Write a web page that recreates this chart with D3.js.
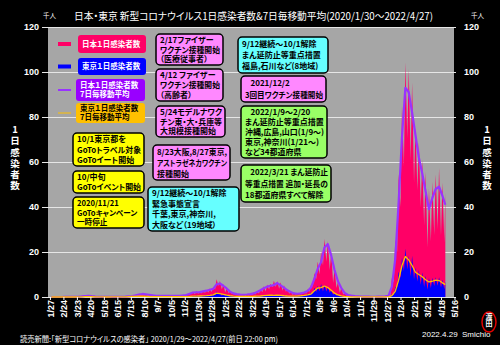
<!DOCTYPE html>
<html><head><meta charset="utf-8">
<script src="https://cdn.jsdelivr.net/npm/d3@7"></script>
<style>
html,body{margin:0;padding:0;background:#000;}
svg{display:block;}
text{font-feature-settings:"palt" 1;}
</style></head><body>
<svg id="c" width="500" height="345"></svg>
<script>
// ---------------- DATA (thousands of people) ----------------
// weekly rows, week i starts on Monday weekStart + 7*i days
const weekStart = "2020-01-27";
const lastDay = "2022-04-27";
// Japan 7-day moving average (purple line)
const jpAvg = [
0.002,0.003,0.005,0.01,0.02,0.03,0.04,0.04,0.1,0.25,
0.45,0.55,0.35,0.2,0.1,0.05,0.03,0.035,0.04,0.04,
0.05,0.1,0.17,0.3,0.45,0.75,1.1,1.35,1.15,0.95,
0.75,0.55,0.55,0.5,0.5,0.5,0.55,0.55,0.55,0.7,
0.9,1.4,2.0,2.1,2.2,2.5,2.8,3.2,3.6,5.6,
6.0,5.0,3.8,2.4,1.6,1.3,1.05,1.0,1.1,1.3,
1.6,2.2,3.0,3.9,4.6,5.0,5.3,6.2,5.2,4.2,
3.0,2.2,1.6,1.45,1.6,2.0,2.7,4.2,8.0,12.5,
15.5,22.0,23.5,18.5,12.0,7.0,4.0,1.8,0.9,0.6,
0.4,0.3,0.2,0.15,0.13,0.1,0.12,0.13,0.15,0.25,
0.5,4.6,16.9,42.0,71.2,93.0,91.0,82.0,72.0,62.0,
55.0,47.0,39.0,44.0,48.0,49.0,45.0,41.0];
// Japan daily cases: Monday (weekly low) and weekly peak day
const jpMon = [
0,0,0.002,0.005,0.01,0.02,0.02,0.02,0.04,0.1,
0.25,0.37,0.22,0.14,0.06,0.02,0.02,0.02,0.03,0.02,
0.04,0.06,0.1,0.2,0.3,0.45,0.6,0.8,0.7,0.6,
0.5,0.3,0.3,0.3,0.3,0.3,0.3,0.3,0.3,0.4,
0.5,0.8,1.2,1.2,1.4,1.6,1.8,2.0,2.2,3.3,
4.9,3.3,2.0,1.8,1.3,1.0,0.8,0.7,0.6,0.7,
0.8,1.1,1.6,2.1,2.5,3.3,4.3,4.5,3.7,2.8,
2.3,1.5,0.9,0.9,1.1,1.3,1.5,2.3,4.7,8.0,
10.0,14.0,15.7,12.0,6.2,4.0,1.9,1.1,0.6,0.4,
0.24,0.15,0.1,0.1,0.08,0.05,0.06,0.08,0.1,0.15,
0.25,0.8,6.4,20.0,40.0,58.0,70.5,60.4,50.8,47.5,
39.8,31.8,22.0,24.8,27.6,30.1,27.3,24.2];
const jpPeak = [
0.003,0.01,0.01,0.02,0.03,0.04,0.06,0.06,0.2,0.4,
0.7,0.62,0.44,0.3,0.12,0.1,0.05,0.06,0.05,0.07,
0.08,0.14,0.27,0.4,0.6,1.0,1.5,1.6,1.3,1.2,
0.9,0.7,0.65,0.6,0.65,0.65,0.65,0.7,0.7,0.9,
1.3,1.8,2.4,2.6,2.5,3.0,3.2,3.8,4.5,7.9,
7.1,5.7,4.0,2.6,2.0,1.5,1.2,1.2,1.35,1.6,
2.1,2.8,3.7,4.8,5.6,5.9,7.2,7.1,6.6,5.2,
3.5,2.7,1.9,1.8,2.0,2.4,3.4,5.4,10.7,15.8,
20.3,25.9,24.9,20.0,12.4,6.7,4.2,2.1,1.1,0.8,
0.55,0.4,0.26,0.22,0.2,0.15,0.16,0.18,0.2,0.3,
0.55,8.5,25.7,54.6,84.9,104.3,101.3,95.3,75.0,68.8,
61.0,55.7,48.2,51.2,54.6,57.3,50.9,46.6];
// Tokyo 7-day moving average (orange line)
const tkAvg = [
0,0,0,0.001,0.002,0.003,0.005,0.01,0.04,0.1,
0.15,0.15,0.12,0.08,0.03,0.015,0.01,0.01,0.015,0.02,
0.03,0.05,0.1,0.2,0.25,0.25,0.33,0.35,0.28,0.22,
0.2,0.15,0.17,0.17,0.16,0.17,0.18,0.17,0.17,0.16,
0.2,0.28,0.4,0.43,0.45,0.5,0.6,0.75,0.95,1.7,
1.5,1.2,0.8,0.55,0.4,0.3,0.27,0.27,0.28,0.3,
0.33,0.4,0.45,0.6,0.7,0.8,0.75,0.8,0.7,0.55,
0.45,0.4,0.4,0.45,0.55,0.7,0.9,1.3,2.8,4.0,
4.2,4.9,4.2,3.0,1.7,0.9,0.5,0.25,0.15,0.07,
0.04,0.03,0.02,0.02,0.02,0.02,0.02,0.02,0.02,0.03,
0.06,0.6,2.5,7.5,14.0,18.0,16.5,14.0,11.0,10.0,
9.0,7.7,6.7,7.0,7.5,7.3,6.3,5.5];
// Tokyo daily cases: Monday and weekly peak day
const tkMon = [
0,0,0,0,0,0,0,0.005,0.02,0.08,
0.08,0.09,0.1,0.04,0.02,0.01,0.005,0.01,0.01,0.01,
0.02,0.03,0.06,0.1,0.12,0.17,0.13,0.3,0.2,0.16,
0.1,0.1,0.08,0.1,0.07,0.08,0.08,0.08,0.1,0.1,
0.09,0.15,0.18,0.3,0.3,0.3,0.3,0.39,0.48,0.88,
1.2,0.6,0.6,0.39,0.28,0.18,0.18,0.12,0.17,0.18,
0.19,0.23,0.25,0.3,0.4,0.42,0.42,0.57,0.42,0.34,
0.27,0.21,0.21,0.24,0.32,0.34,0.5,0.73,1.43,2.2,
2.6,2.5,2.45,1.9,0.97,0.6,0.25,0.15,0.08,0.05,
0.03,0.02,0.01,0.01,0.01,0.01,0.01,0.01,0.01,0.02,
0.03,0.1,0.87,4.2,8.5,11.4,12.2,9.1,7.9,6.9,
5.4,4.5,3.2,4.0,4.9,5.0,4.2,3.5];
const tkPeak = [
0,0.001,0.002,0.005,0.005,0.008,0.01,0.015,0.07,0.14,
0.2,0.2,0.16,0.15,0.06,0.03,0.02,0.02,0.03,0.05,
0.05,0.06,0.13,0.24,0.29,0.37,0.47,0.46,0.39,0.34,
0.25,0.2,0.23,0.22,0.23,0.23,0.25,0.28,0.2,0.22,
0.29,0.39,0.53,0.57,0.6,0.6,0.82,0.95,1.34,2.45,
1.8,1.5,1.07,0.73,0.47,0.45,0.34,0.34,0.34,0.41,
0.43,0.48,0.59,0.73,0.86,1.03,1.12,1.01,0.84,0.68,
0.51,0.44,0.5,0.57,0.71,0.92,1.31,1.98,4.06,5.04,
5.77,5.41,4.7,3.17,1.83,1.05,0.54,0.27,0.17,0.08,
0.05,0.04,0.03,0.03,0.03,0.03,0.03,0.03,0.04,0.04,
0.08,1.22,4.56,11.2,17.6,21.6,18.3,18.3,13.0,12.0,
10.9,9.4,8.4,8.6,8.8,8.8,7.7,6.9];
// axis ticks
const tickDates = ["2020-01-27","2020-02-24","2020-03-23","2020-04-20","2020-05-18","2020-06-15","2020-07-13","2020-08-10","2020-09-07","2020-10-05","2020-11-02","2020-11-30","2020-12-28","2021-01-25","2021-02-22","2021-03-22","2021-04-19","2021-05-17","2021-06-14","2021-07-12","2021-08-09","2021-09-06","2021-10-04","2021-11-01","2021-11-29","2021-12-27","2022-01-24","2022-02-21","2022-03-21","2022-04-18","2022-05-16"];
const yTicks = [0,20,40,60,80,100,120];
const legendLabels = [["日本１日感染者数"],["東京１日感染者数"],["日本１日感染者数","7日毎移動平均"],["東京１日感染者数","7日毎移動平均"]];
const titleText = "日本・東京 新型コロナウイルス1日感染者数&7日毎移動平均(2020/1/30～2022/4/27)";
const sideLabel = "1日感染者数";
const unitLabel = "千人";
const sourceText = "読売新聞:「新型コロナウイルスの感染者」 2020/1/29～2022/4/27(前日 22:00 pm)";
const creditText = "2022.4.29  Smichio";

// ---------------- LAYOUT ----------------
const W = 500, H = 345;
const P = {l:48, r:454, t:27, b:297};
const C = {jp:"#ff0066", tk:"#0000ff", jpAvg:"#9933ff", tkAvg:"#ffc000", bg:"#a6a6a6"};
const JP = "'Noto Sans CJK JP','Noto Sans',sans-serif";
const AR = "'Liberation Sans',Arial,sans-serif";

const svg = d3.select("#c");
svg.append("rect").attr("width",W).attr("height",H).attr("fill","#000");

const parse = d3.timeParse("%Y-%m-%d");
const x = d3.scaleTime().domain([parse("2020-01-23"), parse("2022-05-15")]).range([P.l, P.r]);
const y = d3.scaleLinear().domain([0,120]).range([P.b, P.t]);

svg.append("rect").attr("x",P.l).attr("y",P.t).attr("width",P.r-P.l).attr("height",P.b-P.t).attr("fill",C.bg);

// gridlines
svg.append("g").selectAll("line").data(yTicks).join("line")
  .attr("x1",P.l-6).attr("x2",P.r+2).attr("y1",d=>y(d)+0.5).attr("y2",d=>y(d)+0.5)
  .attr("stroke","#e6e6e6").attr("stroke-width",1);

// y labels
const yl = d3.axisLeft(y).tickValues(yTicks).tickSize(0).tickPadding(9);
const gyl = svg.append("g").attr("transform",`translate(${P.l},0)`).call(yl);
const yr = d3.axisRight(y).tickValues(yTicks).tickSize(0).tickPadding(10);
const gyr = svg.append("g").attr("transform",`translate(${P.r},0)`).call(yr);
[gyl,gyr].forEach(g=>{
  g.select(".domain").remove();
  g.selectAll("text").attr("fill","#fff").attr("font-size",9).attr("font-weight","bold").attr("font-family",AR);
});

// series points
const start = parse(weekStart), endD = parse(lastDay);
const dayAt = (i,d)=>{ const t = d3.timeDay.offset(start, i*7+d); return t > endD ? endD : t; };
function dailyPts(mon, peak){
  const pts = [];
  mon.forEach((v,i)=>{ pts.push([dayAt(i,0), v]); pts.push([dayAt(i,3), peak[i]]); });
  return pts;
}
const avgPts = arr => arr.map((v,i)=>[dayAt(i,3), v]);
const area = d3.area().x(d=>x(d[0])).y0(y(0)).y1(d=>y(d[1]));
const line = d3.line().x(d=>x(d[0])).y(d=>y(d[1]));

const plotG = svg.append("g");
plotG.append("path").datum(dailyPts(jpMon,jpPeak)).attr("d",area).attr("fill",C.jp);
plotG.append("path").datum(avgPts(jpAvg)).attr("d",line).attr("fill","none").attr("stroke",C.jpAvg).attr("stroke-width",2.2).attr("stroke-linejoin","round");
plotG.append("path").datum(dailyPts(tkMon,tkPeak)).attr("d",area).attr("fill",C.tk);
plotG.append("path").datum(avgPts(tkAvg)).attr("d",line).attr("fill","none").attr("stroke",C.tkAvg).attr("stroke-width",1.3).attr("stroke-linejoin","round");

// x axis
const xa = d3.axisBottom(x).tickValues(tickDates.map(parse)).tickFormat(d3.timeFormat("%-m/%-d")).tickSize(3);
const gx = svg.append("g").attr("transform",`translate(0,${P.b})`).call(xa);
gx.select(".domain").remove();
gx.selectAll("line").attr("stroke","#fff");
gx.selectAll("text").attr("fill","#fff").attr("font-size",9).attr("font-weight","bold").attr("font-family",AR)
  .attr("transform","rotate(-90)").attr("text-anchor","end").attr("x",-3).attr("y",0).attr("dy","0.35em");

// title
svg.append("text").attr("x",74).attr("y",20).attr("fill","#fff").attr("font-size",10.2).attr("font-family",JP)
  .attr("textLength",359).attr("lengthAdjust","spacingAndGlyphs").text(titleText);
// 千人
[[43,17.5],[471,17.5]].forEach(([px,py])=>svg.append("text").attr("x",px).attr("y",py).attr("fill","#fff").attr("font-size",6.5).attr("font-family",JP).text(unitLabel));
// side labels (vertical writing)
[15,487].forEach(cx=>{
  svg.append("text").attr("x",cx).attr("y",125).attr("fill","#fff").attr("font-size",9.5).attr("font-weight","bold")
    .attr("font-family",JP).style("writing-mode","vertical-rl").style("text-orientation","upright")
    .style("letter-spacing","1.6px").text(sideLabel);
});

// legend
const legendLayout = [
  {sw:{c:C.jp,w:4}, box:{x:78,y:35,w:68,h:18,c:C.jp,t:"#fff"}},
  {sw:{c:C.tk,w:4}, box:{x:78,y:58,w:68,h:17,c:C.tk,t:"#fff"}},
  {sw:{c:C.jpAvg,w:2}, box:{x:76,y:79,w:69,h:22,c:"#9900ff",t:"#fff"}},
  {sw:{c:C.tkAvg,w:1}, box:{x:76,y:103,w:69,h:20,c:"#ffc000",t:"#000"}}
];
const lg = svg.append("g");
legendLayout.forEach((L,i)=>{
  const b = L.box, cy = b.y+b.h/2;
  lg.append("line").attr("x1",58).attr("x2",71).attr("y1",cy).attr("y2",cy).attr("stroke",L.sw.c).attr("stroke-width",L.sw.w);
  lg.append("rect").attr("x",b.x).attr("y",b.y).attr("width",b.w).attr("height",b.h).attr("rx",3).attr("fill",b.c);
  const lines = legendLabels[i];
  lines.forEach((s,j)=>{
    lg.append("text").attr("x",b.x+4).attr("y", cy + 2.7 + (j-(lines.length-1)/2)*9.5)
      .attr("fill",b.t).attr("font-size",7.5).attr("font-weight","bold").attr("font-family",JP).text(s);
  });
});

// annotations
const notes = [
 {x:73,y:133,w:71,h:33,c:"#ffff00",lines:["10/1東京都を","GoToトラベル対象","GoToイート開始"]},
 {x:73,y:171,w:71,h:22,c:"#ffff00",lines:["10/中旬","GoToイベント開始"]},
 {x:73,y:197,w:71,h:31,c:"#ffff00",fs:7.6,lines:["2020/11/21","GoToキャンペーン","一時停止"]},
 {x:156,y:34,w:67,h:31,c:"#ff88ff",lines:["2/17ファイザー","ワクチン接種開始","（医療従事者）"]},
 {x:156,y:69,w:67,h:32,c:"#ff88ff",lines:["4/12 ファイザー","ワクチン接種開始","（高齢者）"]},
 {x:156,y:106,w:69,h:31,c:"#ff88ff",lines:["5/24モデルナワク","チン東・大・兵庫等","大規模接種開始"]},
 {x:153,y:145,w:77,h:35,c:"#ff88ff",lines:["8/23大阪,8/27東京,","アストラゼネカワクチン","接種開始"]},
 {x:148,y:187,w:91,h:44,c:"#66ffff",lines:["9/12継続～10/1解除","緊急事態宣言","千葉,東京,神奈川,","大阪など（19地域）"]},
 {x:238,y:37,w:90,h:36,c:"#66ffff",lines:["9/12継続～10/1解除","まん延防止等重点措置","福島,石川など(8地域)"]},
 {x:241,y:76,w:85,h:26,c:"#ff88ff",lines:["   2021/12/2","3回目ワクチン接種開始"]},
 {x:241,y:106,w:86,h:52,c:"#99ff66",lines:["   2022/1/9～2/20","まん延防止等重点措置","沖縄,広島,山口(1/9～)","東京,神奈川(1/21～)","など34都道府県"]},
 {x:241,y:165,w:90,h:37,c:"#99ff66",lines:["   2022/3/21 まん延防止","等重点措置 追加・延長の","18都道府県すべて解除"]}
];
const ng = svg.append("g");
notes.forEach(n=>{
  ng.append("rect").attr("x",n.x).attr("y",n.y).attr("width",n.w).attr("height",n.h).attr("rx",4)
    .attr("fill",n.c).attr("stroke","#000").attr("stroke-width",1.5);
  const step = (n.h-2)/n.lines.length;
  n.lines.forEach((s,j)=>{
    const t = ng.append("text").attr("x",n.x+4).attr("y",n.y+1+step*(j+0.5)+3)
      .attr("fill","#000").attr("font-size",n.fs||8).attr("font-weight","bold").attr("font-family",JP)
      .attr("xml:space","preserve").style("white-space","pre").text(s);
    const len = t.node().getComputedTextLength();
    if (len > n.w-7) t.attr("textLength",n.w-7).attr("lengthAdjust","spacingAndGlyphs");
  });
});

// footer
svg.append("text").attr("x",20).attr("y",342).attr("fill","#fff").attr("font-size",8).attr("font-family",JP)
  .attr("textLength",258).attr("lengthAdjust","spacingAndGlyphs").text(sourceText);
svg.append("text").attr("x",422).attr("y",337).attr("fill","#fff").attr("font-size",8).attr("font-family",AR)
  .style("white-space","pre").text(creditText);
// stamp
svg.append("ellipse").attr("cx",489).attr("cy",322).attr("rx",7).attr("ry",10).attr("fill","none").attr("stroke","#e00000").attr("stroke-width",1.5);
svg.append("text").attr("x",489).attr("y",313).attr("fill","#fff").attr("font-size",7).attr("font-weight","bold")
  .attr("font-family",JP).style("writing-mode","vertical-rl").style("text-orientation","upright").text("渡田");
</script>
</body></html>
